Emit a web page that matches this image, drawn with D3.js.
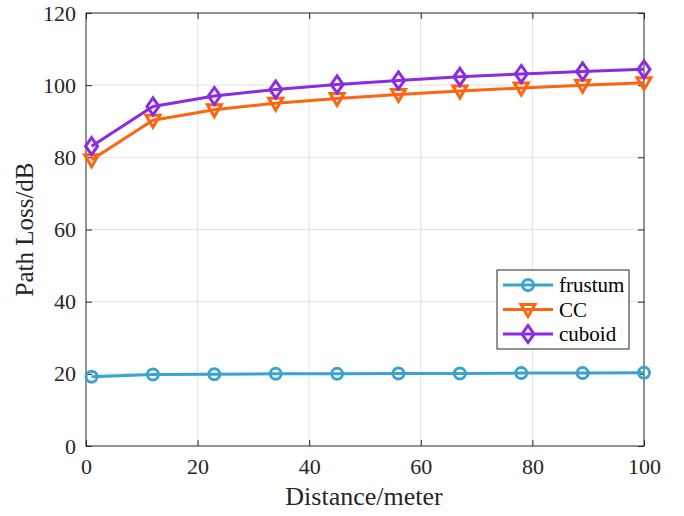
<!DOCTYPE html>
<html><head><meta charset="utf-8">
<script src="https://cdn.jsdelivr.net/npm/d3@7"></script>
<style>
body{margin:0;background:#fff;} svg{display:block;}
text{font-family:'Liberation Serif','Times New Roman',serif;}
.tick text{font-family:'Liberation Serif','Times New Roman',serif !important;font-size:22px !important;fill:#262626;}
</style>
</head><body>
<svg id="c" width="684" height="516"></svg>
<script>
const distance = [1, 12, 23, 34, 45, 56, 67, 78, 89, 100];
const frustum = [19.2, 19.8, 19.9, 20.0, 20.0, 20.1, 20.1, 20.2, 20.2, 20.3];
const cc = [79.3, 90.3, 93.2, 95.0, 96.3, 97.4, 98.4, 99.2, 100.0, 100.7];
const cuboid = [83.1, 94.1, 97.0, 98.8, 100.2, 101.3, 102.3, 103.1, 103.8, 104.4];
const xTicks = [0, 20, 40, 60, 80, 100];
const yTicks = [0, 20, 40, 60, 80, 100, 120];
const seriesNames = ["frustum", "CC", "cuboid"];
const seriesColors = ["#3aa3cf", "#ff6410", "#8b2be2"];
const seriesShapes = ["circle", "triangle", "diamond"];

const svg = d3.select("#c");
const L = 86, R = 644, T = 13, B = 446;
const x = d3.scaleLinear().domain([0, 100]).range([L, R]);
const y = d3.scaleLinear().domain([0, 120]).range([B, T]);
const font = "'Liberation Serif','Times New Roman',serif";

// grid
const g = svg.append("g");
g.selectAll(".gx").data(xTicks.slice(1, -1)).enter().append("line")
  .attr("x1", d => x(d)).attr("x2", d => x(d)).attr("y1", T).attr("y2", B)
  .attr("stroke", "#e2e2e2").attr("stroke-width", 1);
g.selectAll(".gy").data(yTicks.slice(1, -1)).enter().append("line")
  .attr("y1", d => y(d)).attr("y2", d => y(d)).attr("x1", L).attr("x2", R)
  .attr("stroke", "#e2e2e2").attr("stroke-width", 1);

// axes
const tickStyle = sel => {
  sel.attr("font-family", font).attr("font-size", 22);
  sel.select(".domain").remove();
  sel.selectAll(".tick line").attr("stroke", "#262626");
  sel.selectAll(".tick text").style("font-family", font).style("font-size", "22px").attr("fill", "#262626");
};
svg.append("g").attr("transform", `translate(0,${B})`)
  .call(d3.axisBottom(x).tickValues(xTicks).tickSize(-6).tickPadding(12).tickFormat(d3.format("d")))
  .call(tickStyle);
svg.append("g").attr("transform", `translate(${L},0)`)
  .call(d3.axisLeft(y).tickValues(yTicks).tickSize(-6).tickPadding(10).tickFormat(d3.format("d")))
  .call(tickStyle);
svg.append("g").attr("transform", `translate(0,${T})`)
  .call(d3.axisTop(x).tickValues(xTicks).tickSize(-6).tickFormat(""))
  .call(tickStyle);
svg.append("g").attr("transform", `translate(${R},0)`)
  .call(d3.axisRight(y).tickValues(yTicks).tickSize(-6).tickFormat(""))
  .call(tickStyle);
svg.append("rect").attr("x", L).attr("y", T).attr("width", R - L).attr("height", B - T)
  .attr("fill", "none").attr("stroke", "#262626").attr("stroke-width", 1);

// labels
svg.append("text").attr("x", (L + R) / 2 - 1).attr("y", 505).attr("text-anchor", "middle")
  .style("font-size", "26px").attr("fill", "#262626").text("Distance/meter");
svg.append("text").attr("transform", `translate(33,${(T + B) / 2}) rotate(-90)`).attr("text-anchor", "middle")
  .style("font-size", "25px").attr("fill", "#262626").text("Path Loss/dB");

function marker(sel, shape, color) {
  if (shape === "circle") {
    sel.append("circle").attr("r", 5.5).attr("fill", "none").attr("stroke", color).attr("stroke-width", 3);
  } else if (shape === "triangle") {
    sel.append("path").attr("d", "M-7,-5 L7,-5 L0,7 Z").attr("fill", "none").attr("stroke", color)
      .attr("stroke-width", 3).attr("stroke-linejoin", "miter");
  } else {
    sel.append("path").attr("d", "M0,-8.5 L6,0 L0,8.5 L-6,0 Z").attr("fill", "none").attr("stroke", color)
      .attr("stroke-width", 3).attr("stroke-linejoin", "miter");
  }
}

const data = [frustum, cc, cuboid];
const line = d3.line().x((d, i) => x(distance[i])).y(d => y(d));
data.forEach((vals, k) => {
  svg.append("path").datum(vals).attr("d", line).attr("fill", "none")
    .attr("stroke", seriesColors[k]).attr("stroke-width", 3);
  vals.forEach((v, i) => {
    const m = svg.append("g").attr("transform", `translate(${x(distance[i])},${y(v)})`);
    marker(m, seriesShapes[k], seriesColors[k]);
  });
});

// legend
const lg = svg.append("g").attr("transform", "translate(497,270)");
lg.append("rect").attr("width", 132).attr("height", 79).attr("fill", "#fff")
  .attr("stroke", "#262626").attr("stroke-width", 1);
seriesNames.forEach((n, k) => {
  const yy = 15 + k * 24.5;
  lg.append("line").attr("x1", 6).attr("x2", 56).attr("y1", yy).attr("y2", yy)
    .attr("stroke", seriesColors[k]).attr("stroke-width", 3);
  const m = lg.append("g").attr("transform", `translate(31,${yy})`);
  marker(m, seriesShapes[k], seriesColors[k]);
  lg.append("text").attr("x", 62).attr("y", yy + 7).style("font-size", "21px")
    .attr("fill", "#000").text(n);
});
</script>
</body></html>
